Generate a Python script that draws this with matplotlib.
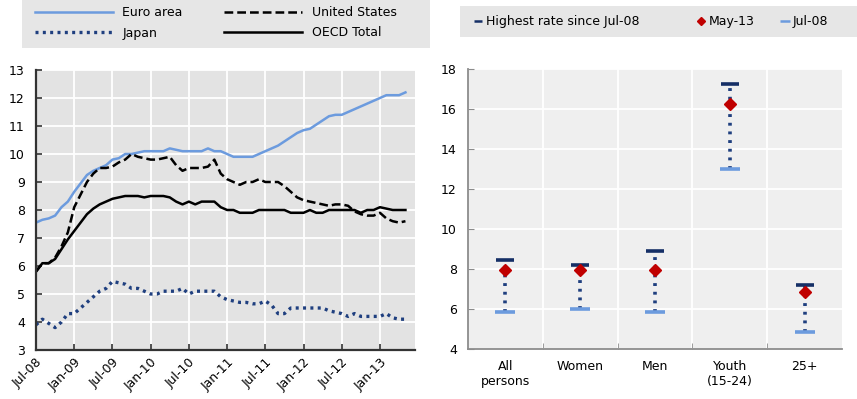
import matplotlib

matplotlib.use("Agg")
import matplotlib.pyplot as plt
from matplotlib.lines import Line2D
from matplotlib.patches import Rectangle
import numpy as np

plt.rcParams["font.family"] = ["DejaVu Sans"]

# ---- left panel: monthly unemployment rates, Jul-08 .. May-13 ----------------
month_ticks = ["Jul-08", "Jan-09", "Jul-09", "Jan-10", "Jul-10", "Jan-11",
               "Jul-11", "Jan-12", "Jul-12", "Jan-13"]

euro_area = [7.55, 7.65, 7.7, 7.8, 8.1, 8.3, 8.65, 8.95, 9.25, 9.4,
             9.5, 9.6, 9.8, 9.85, 10.0, 10.0, 10.05, 10.1, 10.1, 10.1,
             10.1, 10.2, 10.15, 10.1, 10.1, 10.1, 10.1, 10.2, 10.1, 10.1,
             10.0, 9.9, 9.9, 9.9, 9.9, 10.0, 10.1, 10.2, 10.3, 10.45,
             10.6, 10.75, 10.85, 10.9, 11.05, 11.2, 11.35, 11.4, 11.4, 11.5,
             11.6, 11.7, 11.8, 11.9, 12.0, 12.1, 12.1, 12.1, 12.2]

united_states = [5.8, 6.1, 6.1, 6.3, 6.7, 7.2, 8.1, 8.55, 9.0, 9.3,
                 9.5, 9.5, 9.55, 9.7, 9.8, 10.0, 9.9, 9.85, 9.8, 9.8,
                 9.85, 9.9, 9.6, 9.4, 9.5, 9.5, 9.5, 9.55, 9.8, 9.3,
                 9.1, 9.0, 8.9, 9.0, 9.0, 9.1, 9.0, 9.0, 9.0, 8.85,
                 8.65, 8.45, 8.35, 8.3, 8.25, 8.2, 8.15, 8.2, 8.2, 8.15,
                 7.95, 7.85, 7.8, 7.8, 7.9, 7.7, 7.6, 7.55, 7.6]

japan = [3.9, 4.1, 3.95, 3.8, 4.0, 4.3, 4.3, 4.5, 4.7, 4.9,
         5.1, 5.2, 5.45, 5.4, 5.35, 5.2, 5.2, 5.1, 5.0, 5.0,
         5.1, 5.1, 5.1, 5.2, 5.0, 5.1, 5.1, 5.1, 5.1, 4.9,
         4.8, 4.75, 4.7, 4.7, 4.65, 4.65, 4.75, 4.6, 4.3, 4.3,
         4.5, 4.5, 4.5, 4.5, 4.5, 4.5, 4.4, 4.35, 4.3, 4.2,
         4.3, 4.2, 4.2, 4.2, 4.2, 4.3, 4.15, 4.1, 4.1]

oecd_total = [5.8, 6.1, 6.1, 6.25, 6.6, 6.95, 7.25, 7.55, 7.85, 8.05,
              8.2, 8.3, 8.4, 8.45, 8.5, 8.5, 8.5, 8.45, 8.5, 8.5,
              8.5, 8.45, 8.3, 8.2, 8.3, 8.2, 8.3, 8.3, 8.3, 8.1,
              8.0, 8.0, 7.9, 7.9, 7.9, 8.0, 8.0, 8.0, 8.0, 8.0,
              7.9, 7.9, 7.9, 8.0, 7.9, 7.9, 8.0, 8.0, 8.0, 8.0,
              8.0, 7.9, 8.0, 8.0, 8.1, 8.05, 8.0, 8.0, 8.0]

# ---- right panel: rates by group ---------------------------------------------
groups = ["All\npersons", "Women", "Men", "Youth\n(15-24)", "25+"]
highest_since_jul08 = [8.45, 8.2, 8.9, 17.25, 7.2]
may13 = [7.95, 7.95, 7.95, 16.25, 6.85]
jul08 = [5.85, 6.0, 5.85, 13.0, 4.85]

W, H = 857, 399
fig = plt.figure(figsize=(W / 100, H / 100), dpi=100)


def box(x0, y0, x1, y1):
    """Pixel box (top-left origin) -> figure fraction rect."""
    return [x0 / W, 1 - y1 / H, (x1 - x0) / W, (y1 - y0) / H]


def bg(x0, y0, x1, y1):
    r = box(x0, y0, x1, y1)
    fig.patches.append(Rectangle(r[:2], r[2], r[3], transform=fig.transFigure,
                                 facecolor=LEG_BG, edgecolor="none", zorder=0))


FS = 9
EURO_C = "#6C9BDE"
NAVY = "#1F3F7F"
DARK_NAVY = "#152F66"
RED = "#C00000"
LEG_BG = "#E6E6E6"

bg(22, 0, 430, 48)
bg(460, 6, 857, 37)

# ---- left ----
ax = fig.add_axes(box(36, 70, 415, 350))
ax.set_facecolor("#E3E3E3")
x = np.arange(len(euro_area))
ax.plot(x, euro_area, color=EURO_C, lw=1.8, label="Euro area")
ax.plot(x, japan, color=NAVY, lw=2.4, linestyle=(0, (0.9, 1.3)),
        label="Japan")
ax.plot(x, united_states, color="black", lw=1.8, linestyle=(0, (3.5, 1.6)),
        label="United States")
ax.plot(x, oecd_total, color="black", lw=1.8, label="OECD Total")
ax.set_xlim(0, 59.5)
ax.set_ylim(3, 13)
ax.set_yticks(range(3, 14))
ax.set_xticks(np.arange(0, 60, 6))
ax.set_xticklabels(month_ticks, rotation=45, ha="right", rotation_mode="anchor")
ax.grid(True, color="white", lw=1.3)
ax.set_axisbelow(True)
for s in ("top", "right"):
    ax.spines[s].set_visible(False)
for s in ("left", "bottom"):
    ax.spines[s].set_color("#333333")
    ax.spines[s].set_linewidth(1.6)
ax.tick_params(direction="in", length=4, width=1.2, color="#333333",
               labelsize=FS)
ax.tick_params(axis="y", pad=8)
ax.tick_params(axis="x", pad=4)

h, l = ax.get_legend_handles_labels()
fig.legend(h, l, ncol=2, loc="upper left",
           bbox_to_anchor=(30 / W, 1 - 1 / H), borderaxespad=0,
           frameon=False, fontsize=FS, handlelength=6.2,
           handletextpad=0.8, columnspacing=3.3, borderpad=0.4,
           labelspacing=0.6)

# ---- right ----
ax2 = fig.add_axes(box(468, 69, 842, 349))
ax2.set_facecolor("#EFEFEF")
pos = np.arange(len(groups))
ax2.vlines(pos, jul08, highest_since_jul08, color=NAVY, lw=2.6,
           linestyle=(0, (0.8, 1.6)), zorder=2)
ax2.plot(pos, highest_since_jul08, linestyle="none", marker="_", ms=13,
         mew=2.6, color=DARK_NAVY, zorder=3)
ax2.plot(pos, jul08, linestyle="none", marker="_", ms=14, mew=2.6,
         color=EURO_C, zorder=3)
ax2.plot(pos, may13, linestyle="none", marker="D", ms=6.5, color=RED,
         zorder=4)
ax2.set_xlim(-0.5, len(groups) - 0.5)
ax2.set_ylim(4, 18)
ax2.set_yticks(range(4, 19, 2))
ax2.set_xticks(pos)
ax2.set_xticklabels(groups)
ax2.set_xticks(pos[:-1] + 0.5, minor=True)
ax2.grid(True, axis="y", color="white", lw=1.3)
ax2.grid(True, axis="x", which="minor", color="white", lw=1.3)
ax2.set_axisbelow(True)
for s in ("top", "right"):
    ax2.spines[s].set_visible(False)
for s in ("left", "bottom"):
    ax2.spines[s].set_color("#8C8C8C")
    ax2.spines[s].set_linewidth(1.3)
ax2.tick_params(axis="y", direction="in", length=4, color="#8C8C8C",
                labelsize=FS, pad=8)
ax2.tick_params(axis="x", which="major", length=0, labelsize=FS, pad=8)
ax2.tick_params(axis="x", which="minor", direction="in", length=4,
                color="#8C8C8C")

# right legend: three single entries placed where the reference has them
entries = [
    (Line2D([], [], linestyle="none", marker="_", ms=6, mew=1.8, color=DARK_NAVY),
     "Highest rate since Jul-08", 474),
    (Line2D([], [], linestyle="none", marker="D", ms=4.5, color=RED),
     "May-13", 697),
    (Line2D([], [], linestyle="none", marker="_", ms=7, mew=1.8, color=EURO_C),
     "Jul-08", 781),
]
for handle, label, xpix in entries:
    fig.legend([handle], [label], loc="center left",
               bbox_to_anchor=(xpix / W, 1 - 21.5 / H), borderaxespad=0,
               frameon=False, fontsize=FS, handlelength=0.7,
               handletextpad=0.25, borderpad=0)

fig.savefig("out.png", dpi=100)
